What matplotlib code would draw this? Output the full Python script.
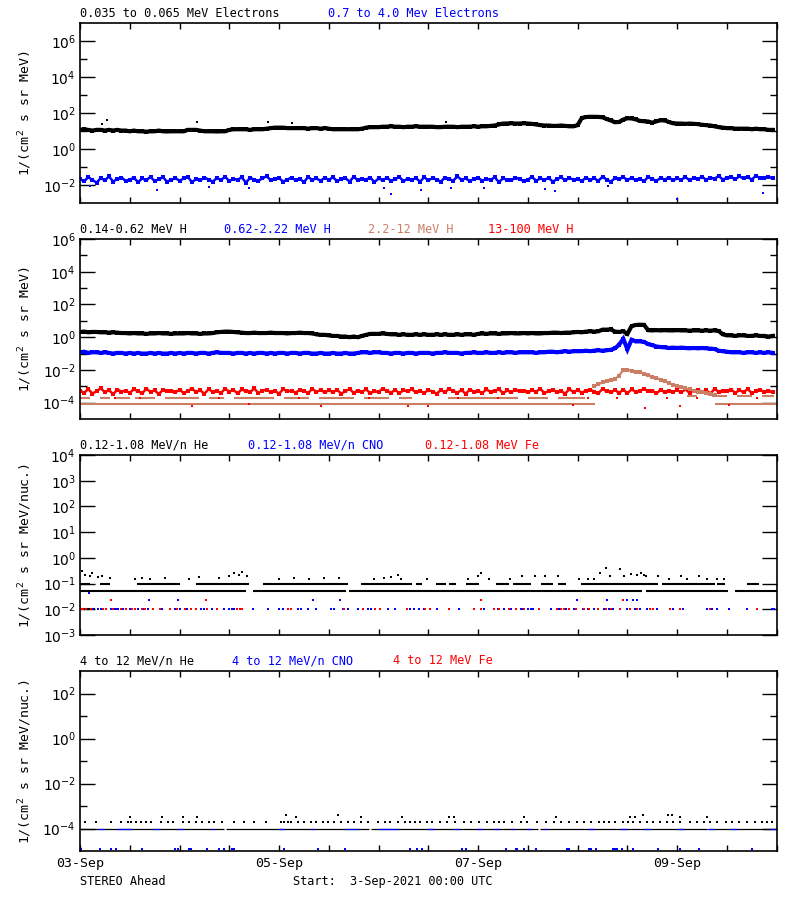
import numpy as np
import matplotlib.pyplot as plt
from matplotlib.ticker import FixedLocator, FixedFormatter, NullFormatter

plt.rcParams['font.family'] = ['DejaVu Sans Mono', 'DejaVu Sans']
plt.rcParams['font.size'] = 8.6

BLUE = '#0000ff'
RED = '#ff0000'
SIENNA = '#cc7e64'

# hourly time stamps, days since 3-Sep-2021 00:00 UTC
hours = np.arange(168) / 24.0

# ---- panel 1: electrons ----
e_low = [12, 13, 12, 11, 12, 12, 11, 12, 11, 12, 11, 11,
         10, 11, 10, 10, 9.5, 10, 10, 11, 10, 9.8, 10, 10,
         10, 10, 12, 12, 12, 11, 10, 10, 10, 9.8, 10, 10,
         12, 13, 13, 13, 13, 12, 13, 13, 13, 14, 15, 16,
         16, 16, 15, 15, 15, 15, 15, 14, 15, 15, 14, 15,
         14, 13, 13, 13, 13, 13, 13, 13, 14, 16, 17, 17,
         17, 18, 18, 19, 18, 18, 17, 18, 18, 19, 18, 18,
         18, 18, 17, 17, 18, 18, 18, 17, 18, 18, 18, 19,
         18, 19, 19, 20, 21, 24, 27, 27, 28, 27, 27, 28,
         27, 26, 24, 22, 21, 21, 20, 20, 21, 20, 19, 19,
         22, 55, 62, 64, 64, 63, 60, 48, 40, 32, 33, 45,
         53, 52, 46, 38, 36, 35, 30, 36, 41, 40, 33, 28,
         27, 27, 26, 27, 26, 25, 23, 22, 21, 19, 17, 16,
         15, 15, 14, 14, 14, 14, 13, 14, 13, 13, 12, 12]
e_low_spikes = [(0.22, 27), (0.27, 41), (1.18, 35), (1.89, 32), (2.13, 30), (3.68, 32)]

# 0.7-4.0 MeV electrons, units of 1e-3
e_high = [22, 17, 28, 20, 14, 25, 19, 31, 16, 23, 27, 18,
          21, 26, 15, 24, 19, 30, 17, 22, 28, 16, 20, 25,
          18, 24, 29, 15, 22, 19, 27, 21, 16, 25, 20, 30,
          17, 23, 20, 28, 14, 26, 21, 18, 24, 32, 19, 22,
          25, 16, 21, 27, 19, 23, 15, 29, 20, 24, 18, 26,
          20, 28, 17, 22, 25, 16, 30, 19, 23, 21, 27, 15,
          24, 19, 26, 18, 22, 29, 17, 23, 20, 25, 16, 28,
          19, 25, 21, 16, 27, 22, 18, 31, 20, 24, 17, 23,
          26, 18, 23, 20, 28, 15, 24, 21, 19, 27, 22, 17,
          21, 29, 18, 24, 20, 26, 16, 22, 28, 19, 25, 21,
          23, 17, 27, 20, 24, 18, 30, 21, 16, 25, 22, 28,
          20, 26, 19, 23, 17, 29, 22, 18, 25, 21, 27, 19,
          24, 21, 28, 19, 26, 22, 30, 20, 27, 23, 33, 21,
          26, 29, 22, 31, 24, 28, 21, 34, 25, 27, 30, 24]
e_high_low = [(0.1, 9), (0.77, 5.3), (1.3, 8), (1.7, 7.2), (3.05, 6.8), (3.12, 3.3),
              (3.43, 5.3), (3.73, 7), (4.06, 6.8), (4.67, 6.5), (4.77, 5.1),
              (5.3, 9), (6.0, 1.8), (6.86, 3.8)]

# ---- panel 2: protons ----
h_low = [2.1, 2.2, 2.0, 2.1, 2.1, 2.0, 2.0, 1.9, 2.0, 1.9, 1.8, 1.8,
         1.7, 1.8, 1.7, 1.7, 1.6, 1.7, 1.7, 1.8, 1.7, 1.7, 1.6, 1.7,
         1.7, 1.7, 1.8, 1.7, 1.7, 1.6, 1.7, 1.7, 1.8, 2.0, 2.1, 2.2,
         2.2, 2.1, 2.0, 1.9, 1.8, 1.8, 1.9, 1.8, 1.8, 1.8, 1.9, 1.8,
         1.8, 1.8, 1.7, 1.8, 1.8, 1.9, 1.8, 1.8, 1.7, 1.5, 1.4, 1.4,
         1.3, 1.2, 1.2, 1.1, 1.1, 1.0, 1.1, 1.0, 1.2, 1.4, 1.6, 1.6,
         1.6, 1.7, 1.6, 1.5, 1.5, 1.4, 1.5, 1.4, 1.4, 1.5, 1.4, 1.5,
         1.4, 1.4, 1.5, 1.4, 1.5, 1.4, 1.4, 1.5, 1.4, 1.5, 1.5, 1.4,
         1.6, 1.7, 1.6, 1.7, 1.7, 1.6, 1.7, 1.7, 1.8, 1.7, 1.7, 1.8,
         1.7, 1.8, 1.7, 1.7, 1.8, 1.8, 1.9, 1.9, 1.8, 1.9, 1.9, 2.0,
         2.1, 2.0, 2.2, 2.3, 2.2, 2.3, 2.9, 2.9, 3.0, 2.2, 2.1, 2.3,
         1.6, 4.8, 5.6, 5.8, 5.7, 2.7, 2.6, 2.7, 2.6, 2.7, 2.6, 2.6,
         2.7, 2.6, 2.6, 2.5, 2.6, 2.6, 2.5, 2.6, 2.5, 2.6, 2.4, 1.5,
         1.3, 1.3, 1.2, 1.3, 1.3, 1.2, 1.2, 1.3, 1.2, 1.2, 1.1, 1.2]
h_mid = [0.12, 0.13, 0.11, 0.12, 0.12, 0.11, 0.12, 0.11, 0.10, 0.11, 0.11, 0.10,
         0.11, 0.10, 0.11, 0.10, 0.10, 0.11, 0.10, 0.11, 0.10, 0.10, 0.11, 0.10,
         0.11, 0.10, 0.11, 0.11, 0.10, 0.11, 0.11, 0.10, 0.11, 0.12, 0.11, 0.11,
         0.11, 0.10, 0.11, 0.11, 0.10, 0.11, 0.10, 0.11, 0.11, 0.10, 0.11, 0.10,
         0.11, 0.11, 0.10, 0.11, 0.11, 0.10, 0.11, 0.11, 0.10, 0.10, 0.11, 0.10,
         0.10, 0.11, 0.10, 0.10, 0.11, 0.10, 0.10, 0.11, 0.12, 0.12, 0.11, 0.12,
         0.12, 0.11, 0.11, 0.10, 0.11, 0.11, 0.10, 0.11, 0.11, 0.10, 0.11, 0.11,
         0.11, 0.10, 0.11, 0.11, 0.12, 0.11, 0.11, 0.11, 0.10, 0.11, 0.11, 0.12,
         0.11, 0.11, 0.12, 0.11, 0.11, 0.12, 0.11, 0.12, 0.12, 0.11, 0.12, 0.12,
         0.12, 0.12, 0.11, 0.12, 0.12, 0.13, 0.13, 0.12, 0.13, 0.14, 0.13, 0.14,
         0.14, 0.14, 0.15, 0.14, 0.15, 0.16, 0.15, 0.16, 0.17, 0.21, 0.35, 0.80,
         0.18, 0.70, 0.55, 0.56, 0.52, 0.38, 0.33, 0.27, 0.25, 0.24, 0.22, 0.23,
         0.22, 0.23, 0.22, 0.21, 0.22, 0.21, 0.22, 0.21, 0.20, 0.19, 0.15, 0.14,
         0.13, 0.12, 0.12, 0.12, 0.11, 0.12, 0.12, 0.11, 0.12, 0.11, 0.12, 0.11]
# 13-100 MeV H, units of 1e-4
h_high = [5.5, 4.0, 6.8, 3.6, 5.0, 7.5, 4.4, 5.8, 3.3, 6.2, 4.8, 5.3,
          4.1, 6.5, 5.0, 3.8, 7.0, 4.6, 5.6, 3.4, 6.0, 4.9, 5.4, 4.2,
          6.3, 3.9, 5.2, 7.2, 4.5, 5.7, 3.5, 6.6, 4.7, 5.1, 4.0, 6.9,
          4.8, 5.9, 3.7, 6.4, 5.0, 4.3, 7.4, 3.9, 5.5, 6.1, 4.4, 5.2,
          3.6, 6.7, 4.9, 5.4, 4.1, 6.0, 5.3, 3.8, 7.1, 4.6, 5.8, 4.3,
          5.6, 4.4, 6.2, 3.5, 5.1, 6.8, 4.0, 5.5, 4.7, 6.5, 3.7, 5.0,
          4.5, 7.3, 5.2, 4.0, 6.1, 3.8, 5.7, 4.9, 6.6, 4.2, 5.4, 3.9,
          6.0, 4.7, 3.6, 5.8, 4.4, 7.0, 5.1, 4.1, 5.9, 3.5, 6.3, 4.8,
          5.3, 3.9, 6.4, 4.6, 5.0, 6.9, 3.7, 5.6, 4.3, 6.2, 4.9, 5.5,
          4.2, 5.7, 4.8, 7.2, 3.8, 5.3, 6.0, 4.5, 5.1, 3.6, 6.7, 4.4,
          5.9, 4.1, 5.4, 6.3, 4.7, 3.9, 6.8, 5.0, 4.3, 5.8, 4.0, 6.1,
          3.8, 6.5, 4.6, 5.2, 7.1, 4.9, 5.5, 3.7, 6.0, 4.4, 5.3, 4.8,
          5.6, 4.3, 6.6, 3.9, 5.1, 6.2, 4.5, 5.8, 3.6, 6.9, 4.7, 5.0,
          4.9, 6.3, 4.0, 5.7, 4.4, 6.8, 3.8, 5.2, 6.0, 4.6, 5.5, 4.2]
h_high_low = [(0.35, 1.8), (0.6, 2.0), (1.13, 0.66), (1.4, 1.8), (1.7, 0.8), (2.2, 1.9),
              (2.42, 0.6), (2.9, 1.8), (3.3, 0.66), (3.5, 0.66), (3.8, 1.8), (4.2, 2.0),
              (4.95, 0.7), (5.1, 1.8), (5.4, 1.9), (5.68, 0.5), (5.9, 1.8), (6.03, 0.66),
              (6.2, 2.0), (6.52, 0.7), (6.8, 1.9)]
# 2.2-12 MeV H: quantised background levels and the event (units of 1e-4)
h_sie_base = [(0.0, 5.17), (6.38, 7.0)]
h_sie_upper = [(0.0, 0.1), (0.2, 0.3), (0.35, 0.5), (0.55, 0.75), (0.85, 1.2), (1.3, 1.45),
               (1.55, 1.95), (2.05, 2.3), (2.4, 2.75), (2.85, 3.1), (3.2, 3.34),
               (3.7, 4.4), (4.5, 4.7), (4.8, 5.07)]
h_sie_tail = [(6.1, 6.2), (6.35, 6.5), (6.6, 6.75), (6.85, 6.97)]
h_sie_event = [10, 13, 18, 22, 24, 28, 45, 100, 105, 85, 80, 70, 58, 50, 38,
               32, 26, 20, 16, 12, 10, 8.5, 7.5, 6.5, 5.5, 4.8, 4.3, 3.8, 3.4, 3.0]
h_sie_event_start = 124  # hour index of first event value

# ---- panel 3: 0.12-1.08 MeV/n ions ----
he_lo_runs = [(0.0, 1.67), (1.74, 2.67), (2.7, 5.65), (5.69, 6.51), (6.58, 7.0)]   # 0.05
he_mid_runs = [(0.0, 0.1), (0.2, 0.3), (0.57, 1.0), (1.17, 1.7), (1.84, 2.69), (2.82, 3.34),
               (3.38, 3.44), (3.58, 3.68), (3.71, 3.78), (3.88, 4.01), (4.18, 4.31),
               (4.35, 4.53), (4.63, 4.75), (4.8, 4.88), (5.03, 5.81), (5.85, 6.38),
               (6.4, 6.48), (6.7, 6.82)]                                          # 0.1
he_floor_runs = [(0.0, 0.15)]                                                     # 0.01
he_high = [(0.02, 0.3), (0.05, 0.22), (0.1, 0.2), (0.12, 0.25), (0.18, 0.18), (0.22, 0.2),
           (0.3, 0.17), (0.55, 0.15), (0.62, 0.16), (0.7, 0.15), (0.85, 0.17), (1.1, 0.15),
           (1.2, 0.18), (1.4, 0.16), (1.5, 0.2), (1.55, 0.26), (1.6, 0.22), (1.63, 0.28),
           (1.68, 0.2), (2.0, 0.15), (2.15, 0.16), (2.3, 0.15), (2.45, 0.17), (2.6, 0.16),
           (2.95, 0.15), (3.05, 0.16), (3.12, 0.18), (3.19, 0.22), (3.23, 0.15), (3.49, 0.15),
           (3.9, 0.15), (4.0, 0.19), (4.03, 0.25), (4.11, 0.15), (4.32, 0.15), (4.44, 0.19),
           (4.57, 0.19), (4.67, 0.2), (4.8, 0.19), (5.01, 0.15), (5.1, 0.15), (5.16, 0.15),
           (5.22, 0.25), (5.28, 0.4), (5.32, 0.2), (5.43, 0.38), (5.47, 0.2), (5.54, 0.23),
           (5.6, 0.21), (5.64, 0.27), (5.67, 0.22), (5.69, 0.19), (5.81, 0.19), (5.92, 0.15),
           (6.04, 0.2), (6.1, 0.15), (6.22, 0.19), (6.3, 0.15), (6.4, 0.15), (6.47, 0.15)]
cno_days = [0.013, 0.13, 0.18, 0.21, 0.26, 0.31, 0.34, 0.36, 0.38, 0.43, 0.50, 0.58, 0.63,
            0.68, 0.82, 0.95, 1.0, 1.08, 1.22, 1.25, 1.33, 1.45, 1.50, 1.53, 1.55, 1.58,
            1.74, 1.89, 2.0, 2.04, 2.19, 2.22, 2.29, 2.37, 2.52, 2.55, 2.64, 2.69, 2.79,
            2.89, 2.92, 3.09, 3.16, 3.32, 3.36, 3.41, 3.46, 3.59, 3.81, 4.06, 4.2, 4.26,
            4.33, 4.43, 4.45, 4.5, 4.53, 4.55, 4.73, 4.81, 4.88, 4.96, 5.05, 5.1, 5.16,
            5.26, 5.31, 5.36, 5.5, 5.58, 5.63, 5.7, 5.8, 5.96, 6.06, 6.3, 6.35, 6.4, 6.52,
            6.7, 6.95, 6.97]
fe_days = [0.007, 0.03, 0.06, 0.11, 0.23, 0.26, 0.33, 0.41, 0.46, 0.52, 0.55, 0.62, 0.65,
           0.73, 0.80, 0.90, 0.97, 1.05, 1.12, 1.17, 1.28, 1.38, 1.58, 1.61, 1.63, 2.09,
           2.12, 2.65, 2.84, 2.96, 3.01, 3.29, 3.47, 3.52, 3.71, 3.96, 4.03, 4.16, 4.21,
           4.31, 4.38, 4.46, 4.61, 4.79, 4.83, 4.86, 4.91, 4.98, 5.06, 5.11, 5.2, 5.28,
           5.34, 5.43, 5.53, 5.6, 5.73, 5.76, 5.93, 6.03, 6.33, 6.8]
cno_up = [(0.09, 0.045), (0.69, 0.023), (0.98, 0.023), (2.34, 0.023), (2.61, 0.023),
          (4.99, 0.023), (5.29, 0.023), (5.5, 0.023), (5.56, 0.023), (5.6, 0.023)]
fe_up = [(0.31, 0.023), (1.27, 0.023), (4.03, 0.023), (5.46, 0.023)]

# ---- panel 4: 4-12 MeV/n ions ----
he4_runs = [(0.0, 1.45), (1.47, 2.9), (2.92, 4.6), (4.62, 6.3), (6.32, 7.0)]     # 1e-4
he4_dots = [0.047, 0.164, 0.314, 0.415, 0.481, 0.515, 0.565, 0.615, 0.665, 0.715, 0.816,
            0.883, 0.933, 1.033, 1.10, 1.17, 1.23, 1.30, 1.35, 1.43, 1.55, 1.65, 1.75,
            1.87, 2.02, 2.05, 2.09, 2.12, 2.19, 2.25, 2.32, 2.37, 2.44, 2.49, 2.55, 2.62,
            2.69, 2.75, 2.82, 2.89, 2.99, 3.06, 3.11, 3.19, 3.27, 3.32, 3.37, 3.42, 3.49,
            3.54, 3.62, 3.69, 3.77, 3.86, 3.93, 4.01, 4.09, 4.16, 4.21, 4.26, 4.34, 4.43,
            4.49, 4.59, 4.68, 4.76, 4.83, 4.91, 4.99, 5.06, 5.13, 5.21, 5.26, 5.31, 5.38,
            5.46, 5.51, 5.56, 5.63, 5.70, 5.76, 5.83, 5.90, 5.96, 6.03, 6.13, 6.20, 6.27,
            6.33, 6.40, 6.49, 6.55, 6.62, 6.70, 6.78, 6.85, 6.90, 6.95]   # 1.9e-4
he4_high = [(0.5, 3.1), (0.82, 3.1), (1.03, 3.1), (1.18, 3.1), (2.07, 4.0), (2.17, 3.1),
            (2.59, 4.0), (2.82, 3.1), (3.24, 3.1), (3.71, 3.1), (3.76, 3.1), (4.46, 3.1),
            (4.78, 3.1), (5.53, 3.1), (5.58, 3.1), (5.66, 4.0), (5.91, 4.0), (5.95, 4.0),
            (6.03, 3.1), (6.3, 3.1)]   # units of 1e-4
cno4_runs = [(0.18, 0.24), (0.37, 0.52), (0.73, 0.8), (0.98, 1.03), (1.32, 1.35),
             (1.99, 2.05), (2.32, 2.35), (2.66, 2.79), (2.99, 3.19), (3.49, 3.56),
             (3.76, 3.81), (3.99, 4.04), (4.16, 4.21), (4.33, 4.36), (4.49, 4.53),
             (4.66, 4.69), (5.1, 5.16), (5.43, 5.5), (5.67, 5.73), (6.0, 6.07),
             (6.3, 6.37), (6.53, 6.6), (6.93, 6.98)]                              # 1e-4
cno4_low = [0.013, 0.2, 0.31, 0.36, 0.62, 0.95, 0.98, 1.1, 1.12, 1.28, 1.40, 1.45, 1.53,
            1.55, 2.05, 2.39, 2.66, 3.32, 3.39, 3.44, 3.84, 3.88, 4.28, 4.38, 4.39, 4.46,
            4.58, 4.89, 4.91, 5.11, 5.13, 5.18, 5.36, 5.38, 5.4, 5.45, 5.56, 5.81, 6.03,
            6.22, 6.75]   # 1.2e-5

date_ticks = [0, 2, 4, 6]
date_labels = ['03-Sep', '05-Sep', '07-Sep', '09-Sep']


def dots(ax, t, v, color, ms=2.0):
    ax.plot(t, v, 's', color=color, ms=ms, mew=0, ls='none')


def band(ax, t, v, color, lw=1.0, ms=2.0):
    # dense time series: connected jittery trace plus sample points
    ax.plot(t, v, '-', color=color, lw=lw, solid_joinstyle='miter')
    dots(ax, t, v, color, ms)


def runs(ax, segs, level, color, lw=1.5):
    ax.hlines([level] * len(segs), [a for a, b in segs], [b for a, b in segs],
              colors=color, lw=lw)


def pairs(ax, pts, color, scale=1.0, ms=2.0):
    dots(ax, [p[0] for p in pts], [p[1] * scale for p in pts], color, ms)


def set_log_ticks(ax, lo, hi, major, minor):
    ax.set_yscale('log')
    ax.set_ylim(10.0 ** lo, 10.0 ** hi)
    ax.yaxis.set_major_locator(FixedLocator([10.0 ** e for e in major]))
    ax.yaxis.set_major_formatter(FixedFormatter(['$10^{%d}$' % e for e in major]))
    ax.yaxis.set_minor_locator(FixedLocator([10.0 ** e for e in minor]))
    ax.yaxis.set_minor_formatter(NullFormatter())


fig = plt.figure(figsize=(8, 9), dpi=100)
bottoms = [0.7741, 0.5344, 0.2944, 0.0544]
axes = [fig.add_axes([0.1, b, 0.8709, 0.2]) for b in bottoms]

set_log_ticks(axes[0], -3, 7, [-2, 0, 2, 4, 6], [-1, 1, 3, 5])
set_log_ticks(axes[1], -5, 6, [-4, -2, 0, 2, 4, 6], [-3, -1, 1, 3, 5])
set_log_ticks(axes[2], -3, 4, [-3, -2, -1, 0, 1, 2, 3, 4], [])
set_log_ticks(axes[3], -5, 3, [-4, -2, 0, 2], [-3, -1, 1])

for ax in axes:
    ax.set_xlim(0, 7)
    for s in ax.spines.values():
        s.set_linewidth(1.2)
    ax.xaxis.set_major_locator(FixedLocator(date_ticks))
    ax.xaxis.set_minor_locator(FixedLocator(np.arange(0, 7.01, 0.5)))
    ax.tick_params(axis='x', which='both', direction='in', length=4, width=1,
                   top=True, bottom=True, labelbottom=False)
    ax.tick_params(axis='y', which='major', direction='in', length=11, width=1,
                   left=True, right=True, labelsize=10, pad=3)
    ax.tick_params(axis='y', which='minor', direction='in', length=5, width=1,
                   left=True, right=True)
    ax.yaxis.set_label_coords(-0.066, 0.5)

axes[3].xaxis.set_major_formatter(FixedFormatter(date_labels))
axes[3].tick_params(axis='x', which='major', labelbottom=True, labelsize=9.5, pad=4.5)

axes[0].set_ylabel('1/(cm$^2$ s sr MeV)', fontsize=9.5)
axes[1].set_ylabel('1/(cm$^2$ s sr MeV)', fontsize=9.5)
axes[2].set_ylabel('1/(cm$^2$ s sr MeV/nuc.)', fontsize=9.5)
axes[3].set_ylabel('1/(cm$^2$ s sr MeV/nuc.)', fontsize=9.5)

# panel 1
ax = axes[0]
band(ax, hours, e_low, 'k', 3.0, 2.8)
pairs(ax, e_low_spikes, 'k', ms=1.6)
band(ax, hours, np.array(e_high) * 1e-3, BLUE, 1.8, 2.4)
pairs(ax, e_high_low, BLUE, 1e-3, 1.6)

# panel 2
ax = axes[1]
runs(ax, h_sie_base, 8.7e-5, SIENNA)
runs(ax, h_sie_upper, 1.9e-4, SIENNA)
runs(ax, h_sie_tail, 2.5e-4, SIENNA)
band(ax, hours, np.array(h_high) * 1e-4, RED, 1.8, 2.4)
pairs(ax, h_high_low, RED, 1e-4, 1.6)
ev = hours[h_sie_event_start:h_sie_event_start + len(h_sie_event)]
band(ax, ev, np.array(h_sie_event) * 1e-4, SIENNA, 1.6, 2.2)
band(ax, hours, h_low, 'k', 3.0, 2.8)
band(ax, hours, h_mid, BLUE, 3.0, 2.8)

# panel 3
ax = axes[2]
runs(ax, he_lo_runs, 0.05, 'k')
runs(ax, he_mid_runs, 0.1, 'k')
runs(ax, he_floor_runs, 0.01, 'k')
pairs(ax, he_high, 'k', ms=1.6)
dots(ax, cno_days, [0.01] * len(cno_days), BLUE, 1.9)
dots(ax, fe_days, [0.01] * len(fe_days), RED, 1.9)
pairs(ax, cno_up, BLUE, ms=1.6)
pairs(ax, fe_up, RED, ms=1.6)

# panel 4
ax = axes[3]
runs(ax, he4_runs, 1e-4, 'k', 0.9)
runs(ax, cno4_runs, 1e-4, BLUE, 0.9)
dots(ax, he4_dots, [1.9e-4] * len(he4_dots), 'k', 1.5)
pairs(ax, he4_high, 'k', 1e-4, 1.5)
dots(ax, cno4_low, [1.2e-5] * len(cno4_low), BLUE, 1.5)

# channel titles
titles = [
    (13.3, [(80, '0.035 to 0.065 MeV Electrons', 'k'), (328, '0.7 to 4.0 Mev Electrons', BLUE)]),
    (229.3, [(80, '0.14-0.62 MeV H', 'k'), (224, '0.62-2.22 MeV H', BLUE),
             (368, '2.2-12 MeV H', SIENNA), (488, '13-100 MeV H', RED)]),
    (445.3, [(80, '0.12-1.08 MeV/n He', 'k'), (248, '0.12-1.08 MeV/n CNO', BLUE),
             (425, '0.12-1.08 MeV Fe', RED)]),
    (661.0, [(80, '4 to 12 MeV/n He', 'k'), (232, '4 to 12 MeV/n CNO', BLUE),
             (393, '4 to 12 MeV Fe', RED)]),
]
for ypx, items in titles:
    for xpx, s, c in items:
        fig.text(xpx / 800, 1 - ypx / 900, s, color=c, ha='left', va='center')

fig.text(80 / 800, 1 - 881.5 / 900, 'STEREO Ahead', ha='left', va='center')
fig.text(293 / 800, 1 - 881.5 / 900, 'Start:  3-Sep-2021 00:00 UTC', ha='left', va='center')

fig.savefig('out.png', dpi=100)
